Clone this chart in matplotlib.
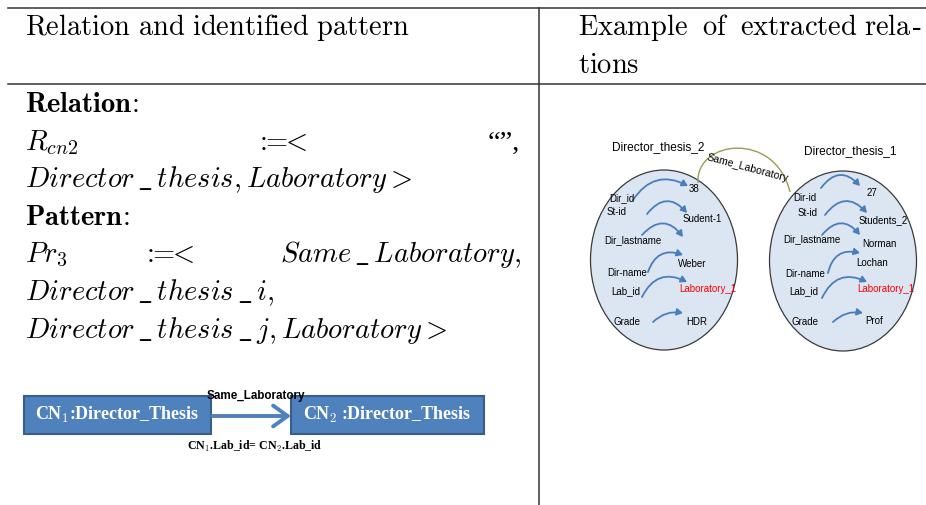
import matplotlib
matplotlib.use("Agg")
import matplotlib.pyplot as plt
from matplotlib.patches import Ellipse, FancyArrowPatch, Rectangle, PathPatch
from matplotlib.path import Path

plt.rcParams['mathtext.fontset'] = 'cm'

# ---------------- data ----------------
header_left = "Relation and identified pattern"
header_right_words = ["Example", "of", "extracted"]
header_right_x = [578, 702, 740]
header_right_last = "rela"
header_right_line2 = "tions"

box_labels = ["CN$_1$:Director_Thesis", "CN$_2$ :Director_Thesis"]
edge_label = "Same_Laboratory"
condition = "CN$_1$.Lab_id= CN$_2$.Lab_id"

attrs_1 = ["Dir_id", "St-id", "Dir_lastname", "Dir-name", "Lab_id", "Grade"]
vals_1 = ["38", "Sudent-1", "Weber", "Laboratory_1", "HDR"]
attrs_2 = ["Dir-id", "St-id", "Dir_lastname", "Dir-name", "Lab_id", "Grade"]
vals_2 = ["27", "Students_2", "Norman", "Lochan", "Laboratory_1", "Prof"]
title_1 = "Director_thesis_2"
title_2 = "Director_thesis_1"

W, H = 926, 505
fig = plt.figure(figsize=(W / 100, H / 100), dpi=100)
ax = fig.add_axes([0, 0, 1, 1])
ax.set_xlim(0, W)
ax.set_ylim(H, 0)
ax.axis('off')

# ---------------- table rules ----------------
lc = '#333333'
ax.plot([8, W], [8, 8], color=lc, lw=1.1)
ax.plot([8, W], [84, 84], color=lc, lw=1.1)
ax.plot([539, 539], [8, H], color=lc, lw=1.1)

FS = 20.5
def m(x, y, s, ha='left', **kw):
    ax.text(x, y, s, fontsize=FS, va='baseline', ha=ha, color='black', **kw)

U = r'\,\_\,'   # wide TeX-like underscore

# header
m(25, 35, r'$\mathrm{Relation\ and\ identified\ pattern}$')
for wd, xx in zip(header_right_words, header_right_x):
    m(xx, 35, r'$\mathrm{' + wd + r'}$')
m(912, 35, r'$\mathrm{' + header_right_last + r'}$', ha='right')
ax.text(921, 35, '-', fontsize=FS, va='baseline', ha='right', family='Liberation Serif')
m(578, 73, r'$\mathrm{' + header_right_line2 + r'}$')

# left body
m(25, 112, r'$\mathbf{Relation}\!\mathbf{:}$')
m(25, 150, r'$R_{cn2}$')
m(255, 150, r'$:\!\!\!=\!\!\!<$')
ax.text(488, 150, '\u201c\u201d,', fontsize=FS, va='baseline', family='Liberation Serif')
m(25, 187, r'$Director' + U + r'thesis, Laboratory >$')
m(25, 225, r'$\mathbf{Pattern}\!\mathbf{:}$')
m(25, 262, r'$Pr_3$')
m(142, 262, r'$:\!\!\!=\!\!\!<$')
m(521, 262, r'$Same' + U + r'Laboratory,$', ha='right')
m(25, 300, r'$Director' + U + r'thesis' + U + r'i,$')
m(25, 338, r'$Director' + U + r'thesis' + U + r'j, Laboratory >$')

# ---------------- bottom-left pattern diagram ----------------
box_fc = '#4F81BD'
box_ec = '#385D8A'
ax.add_patch(Rectangle((24, 396), 187, 38, fc=box_fc, ec=box_ec, lw=1.5))
ax.add_patch(Rectangle((291, 396), 193, 38, fc=box_fc, ec=box_ec, lw=1.5))
serif_b = ['Liberation Serif', 'DejaVu Serif']
ax.text(117, 415, box_labels[0], color='white', fontsize=13, fontweight='bold',
        family=serif_b, ha='center', va='center')
ax.text(387, 415, box_labels[1], color='white', fontsize=13, fontweight='bold',
        family=serif_b, ha='center', va='center')
ax.add_patch(FancyArrowPatch((212, 416), (291, 416), arrowstyle='->,head_length=7,head_width=5',
                             color=box_fc, lw=2.8, mutation_scale=1.5, shrinkA=0, shrinkB=0))
ax.text(256, 396, edge_label, fontsize=8.4, fontweight='bold', family='Liberation Sans',
        ha='center', va='center', color='black')
ax.text(255, 446, condition, fontsize=8.6, fontweight='bold', family=serif_b,
        ha='center', va='center', color='black')

# ---------------- right example diagram ----------------
ell_fc = '#DCE6F2'
ax.add_patch(Ellipse((664, 260), 147, 180, fc=ell_fc, ec='#3a3a3a', lw=0.9))
ax.add_patch(Ellipse((843, 261), 147, 180, fc=ell_fc, ec='#3a3a3a', lw=0.9))

sans = 'Liberation Sans'
ax.text(658, 147, title_1, fontsize=8.6, family=sans, ha='center', va='center',
        color='black')
ax.text(850, 151, title_2, fontsize=8.6, family=sans, ha='center', va='center',
        color='black')

# olive relation curve
verts = [(698, 183), (695, 140), (775, 130), (790, 192)]
ax.add_patch(PathPatch(Path(verts, [Path.MOVETO, Path.CURVE4, Path.CURVE4, Path.CURVE4]),
                       fc='none', ec='#9c9c55', lw=1.0))
ax.text(747, 168, edge_label, fontsize=7.6, family=sans, ha='center', va='center',
        rotation=-15, color='black')

fs_item = 7.0
arrow_c = '#4A7EBB'

def items(attrs, ax_x, ay, vals, vx, vy, colors):
    for a, x, y in zip(attrs, ax_x, ay):
        ax.text(x, y, a, fontsize=fs_item, family=sans, ha='left', va='center', color='black')
    for v, x, y, c in zip(vals, vx, vy, colors):
        ax.text(x, y, v, fontsize=fs_item, family=sans, ha='left', va='center', color=c)

def arrows(segs):
    for (p0, p1, rad) in segs:
        ax.add_patch(FancyArrowPatch(p0, p1, connectionstyle=f'arc3,rad={rad}',
                                     arrowstyle='-|>,head_length=3.5,head_width=2',
                                     color=arrow_c, lw=1.3, shrinkA=0, shrinkB=0))

# ellipse 1
items(attrs_1, [609, 607, 604, 607, 611, 613], [198, 212, 240, 273, 291, 322],
      vals_1, [689, 683, 678, 679, 686], [189, 219, 264, 289, 322],
      ['black', 'black', 'black', 'red', 'black'])
arrows([((633, 200), (688, 186), -0.45),
        ((647, 214), (687, 213), -0.6),
        ((642, 235), (683, 237), -0.6),
        ((648, 272), (683, 255), -0.5),
        ((642, 297), (687, 282), -0.5),
        ((653, 322), (683, 313), -0.25)])

# ellipse 2
items(attrs_2, [793, 798, 783, 785, 789, 792], [198, 213, 239, 274, 291, 322],
      vals_2, [867, 859, 862, 856, 857, 865], [193, 220, 244, 263, 289, 321],
      ['black', 'black', 'black', 'black', 'red', 'black'])
arrows([((821, 188), (860, 186), -0.6),
        ((825, 215), (867, 213), -0.6),
        ((822, 235), (860, 235), -0.6),
        ((828, 273), (860, 253), -0.5),
        ((822, 298), (867, 282), -0.5),
        ((833, 322), (863, 313), -0.25)])

fig.savefig('out.png', dpi=100)
